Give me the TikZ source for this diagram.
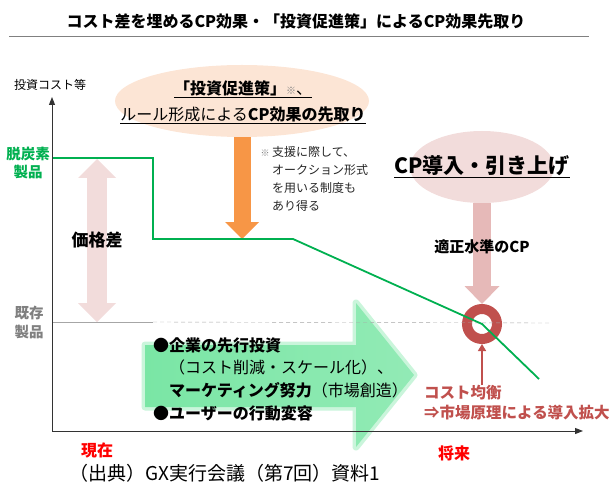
\documentclass[tikz,border=0pt]{standalone}
\usepackage{fontspec}
\setmainfont{Noto Sans CJK JP}
\usepackage{tikz}
\usetikzlibrary{arrows.meta,positioning,shapes.geometric}
\definecolor{cpgreen}{RGB}{0,176,80}
\definecolor{arrowgreen}{RGB}{122,230,165}
\definecolor{peach}{RGB}{252,229,213}
\definecolor{rose}{RGB}{242,220,219}
\definecolor{rosedark}{RGB}{230,185,184}
\definecolor{cporange}{RGB}{247,150,70}
\definecolor{brick}{RGB}{192,80,77}

\begin{document}
\begin{tikzpicture}[x=1pt, y=-1pt,
  lbl/.style={inner sep=0pt, align=center},
  bub/.style={ellipse, inner sep=0pt},
  block/.style n args={3}{line width=#1, -{Triangle[length=#2, width=#3, line width=0pt]}}]
  \useasboundingbox (0,0) rectangle (612,486);
  \node [lbl, font=\fontsize{16}{16}\selectfont\bfseries] (title) at (296,21) {コスト差を埋めるCP効果・「投資促進策」によるCP効果先取り};
  \draw [gray, thin] (9,36)--(589,36);

  \coordinate (origin) at (52,431);
  \coordinate (ytip) at (52,97);
  \coordinate (xtip) at (583,431);
  \coordinate (hi) at (97,159);
  \coordinate (lo) at (97,322);
  \coordinate (loend) at (551,323);
  \coordinate (g1) at (52,158);
  \coordinate (g2) at (153,158);
  \coordinate (g3) at (153,239);
  \coordinate (g4) at (293,239);
  \coordinate (g6) at (539,379);

  \path [preaction={draw=arrowgreen!40, line width=7pt, line join=round}, left color=arrowgreen, right color=arrowgreen!82]
    (145,345)--(356,345)--(356,303)--(414,375)--(356,447)--(356,407)--(145,407)--cycle;

  \node [bub, fill=peach, minimum width=254pt, minimum height=72pt] (pol) at (242,101) {};
  \node [bub, fill=rose, minimum width=144pt, minimum height=72pt] (cp) at (482,167) {};
  \node [circle, draw=brick, line width=10pt, minimum size=30pt, inner sep=0pt] (eq) at (482,324) {};

  \draw [cporange, block={17pt}{17pt}{34pt}] (pol.south)--(pol.south |- g3);
  \draw [rosedark, block={18pt}{18pt}{35pt}] (cp.south)--(eq.north);
  \draw [rose, line width=20pt, {Triangle[length=19pt, width=38pt, line width=0pt]}-{Triangle[length=19pt, width=38pt, line width=0pt]}] (hi)--(lo);

  \draw [gray!70, thin] (origin |- lo)--(g2 |- lo);
  \draw [gray!70, thin, dash pattern=on 4pt off 3pt] (g2 |- lo)--(loend);
  \draw [cpgreen, line width=1.8pt] (g1)--(g2)--(g3)--(g4)--(eq.center)--(g6);

  \draw [black!80, line width=1pt, -{Triangle[length=8pt, width=6pt]}] (origin)--(ytip);
  \draw [black!80, line width=1pt, -{Triangle[length=8pt, width=6pt]}] (origin)--(xtip);

  \node [lbl, font=\fontsize{12}{12}\selectfont] (ylab) at (50,85) {投資コスト等};
  \node [lbl, font=\fontsize{16}{26}\selectfont] (poltxt) at (243,102) {\underline{\textbf{「投資促進策」}{\color{gray}\fontsize{10}{10}\selectfont ※}、}\\\underline{ルール形成による\textbf{CP効果の先取り}}};
  \node [lbl, font=\fontsize{21}{21}\selectfont\bfseries] (cptxt) at (482,167) {\underline{CP導入・引き上げ}};
  \node [lbl, font=\fontsize{15}{15}\selectfont\bfseries] (cplevel) at (482,247) {適正水準のCP};
  \node [lbl, font=\fontsize{12}{18}\selectfont, align=left, anchor=north west, text=black!85] (note) at (272,146) {\llap{{\color{gray}\fontsize{9}{9}\selectfont ※}\ }支援に際して、\\オークション形式\\を用いる制度も\\あり得る};
  \node [lbl, font=\fontsize{17}{17}\selectfont\bfseries] (gap) at (97,240) {価格差};
  \node [lbl, font=\fontsize{14.5}{18}\selectfont\bfseries, text=cpgreen] (decarb) at (28,163) {脱炭素\\製品};
  \node [lbl, font=\fontsize{14.5}{19}\selectfont\bfseries, text=gray] (exist) at (29,322) {既存\\製品};
  \node [lbl, font=\fontsize{16}{22.7}\selectfont, align=left, anchor=west] (acts) at (153,379) {\textbf{●企業の先行投資}\\\hspace*{1em}（コスト削減・スケール化）、\\\hspace*{1em}\textbf{マーケティング努力}（市場創造）\\\textbf{●ユーザーの行動変容}};
  \node [lbl, font=\fontsize{15.5}{20}\selectfont\bfseries, align=left, anchor=west, text=brick] (balance) at (424,403) {コスト均衡\\⇒市場原理による導入拡大};
  \draw [brick, line width=1.5pt, -{Triangle[length=7pt, width=8pt]}] (eq.south |- balance.north)--(eq.south);

  \foreach \n/\x/\y/\t in {now/97/450/現在, future/454/453/将来}
    \node [lbl, font=\fontsize{16}{16}\selectfont\bfseries, text=red] (\n) at (\x,\y) {\t};
  \node [lbl, font=\fontsize{19}{19}\selectfont] (source) at (225,473) {（出典）GX実行会議（第7回）資料1};
\end{tikzpicture}
\end{document}
